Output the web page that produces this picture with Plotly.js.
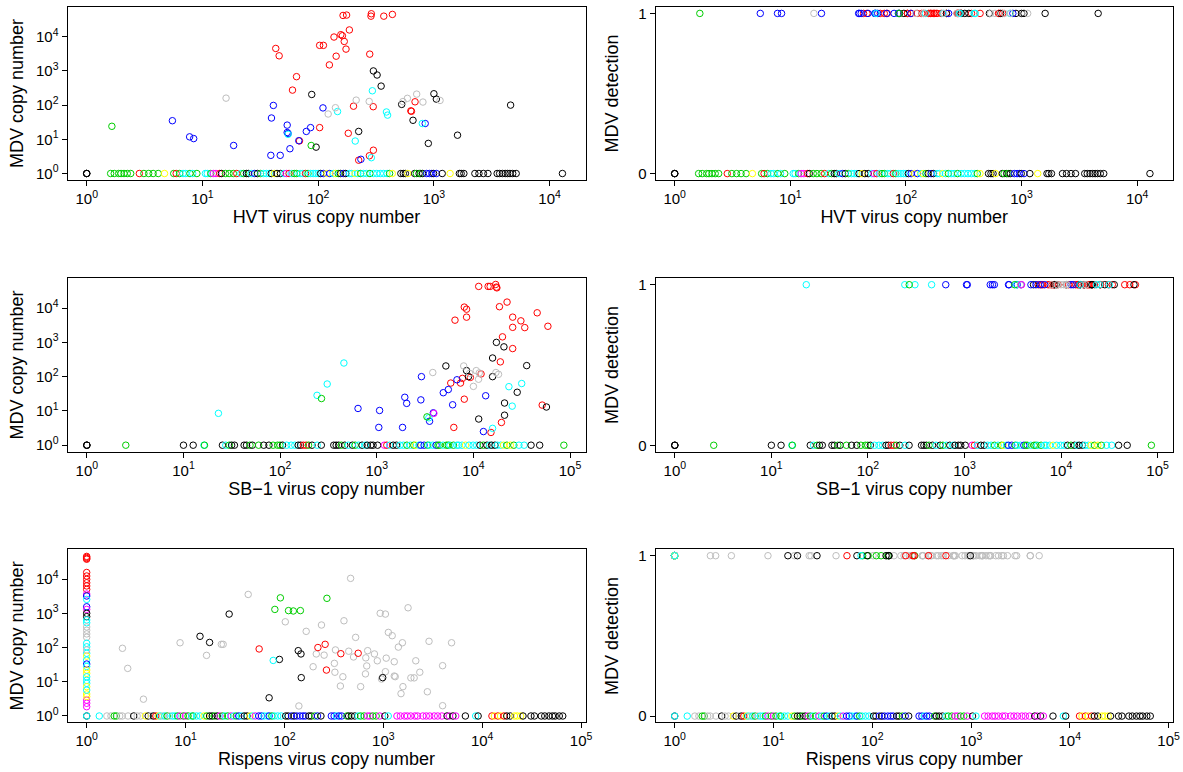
<!DOCTYPE html>
<html>
<head>
<meta charset="utf-8">
<script src="https://cdn.plot.ly/plotly-3.0.1.min.js"></script>
<style>html,body{margin:0;padding:0;background:#fff;}#chart{width:1183px;height:772px;}</style>
</head>
<body>
<div id="chart"></div>
<script>
// R default palette: 1 black, 2 red, 3 green3, 4 blue, 5 cyan, 6 magenta, 7 yellow, 8 gray
const palette = ['black', 'red', '#00CD00', 'blue', 'cyan', 'magenta', 'yellow', '#BEBEBE'];
const UNDETECTED_MDV = 1; // samples with no MDV detected sit at 10^0

// ---------- HVT ----------
const hvtDetCopies = [164,176,288,286,369,438,137,157,162,168,186,174,103,111,143,125,279,43,46,65,60,202,299,687,632,640,103,182,69,300,277,224,
  300,323,350,88,1000,1050,527,660,4600,224,1600,895,96,
  5.5,7.75,8.4,18.6,41,39.5,54,54,55,39,47,57,86,79,110,68,234,841,
  294,147,389,398,55,209,288,794,
  16,122,141,213,276,540,590,710,804,1130,
  1.65,87];
const hvtDetMdv = [42000,43000,47000,40000,40000,45000,9800,11500,10700,7300,15800,4350,5600,5600,2700,1500,3100,4550,2770,680,275,93,90,125,68,66,22,15,9,4.8,3.3,2.45,
  1000,760,360,205,215,150,105,36,100,17,13.2,7.6,5.9,
  35,11.8,10.5,6.6,98,42,26,15.8,14.8,3.4,3.4,5.3,22,17,83,9.1,2.6,29,
  263,65,63,51,14,8.9,2.9,29,
  160,55,84,140,128,127,158,210,123,137,
  24,6.6];
const hvtDetGroup = [2,2,2,2,2,2,2,2,2,2,2,2,2,2,2,2,2,2,2,2,2,2,2,2,2,2,2,2,2,2,2,2,
  1,1,1,1,1,1,1,1,1,1,1,1,1,
  4,4,4,4,4,4,4,4,4,4,4,4,4,4,4,4,4,4,
  5,5,5,5,5,5,5,5,
  8,8,8,8,8,8,8,8,8,8,
  3,3];
const hvtBaseCopies = [1,1,1,1.61,1.73,1.89,1.98,2.1,2.24,2.4,2.85,3.12,3.43,3.75,4.15,4.7,5.65,5.93,6.35,6.8,7.18,7.8,8.24,8.95,
  10.6,11.0,11.8,12.4,13.1,14.1,14.6,15.8,17.0,18.5,19.8,21.5,22.7,24,25,26.4,28.3,29.9,31.8,33.8,35.7,37.7,39.3,41.8,44.1,47.2,50.6,53,56,59.2,62.1,65.2,69.8,73.7,77.8,81.7,85.7,90.5,95.5,
  100,105,111,119,126,135,141,149,156,165,173,186,195,208,220,233,246,261,280,300,321,344,368,394,414,437,518,544,567,595,682,706,745,766,798,866,915,960,994,
  1050,1180,1380,1660,1720,1815,2260,2450,2680,2930,3520,3700,3910,4130,4330,4540,4800,5140,12900];
const hvtBaseGroup = [1,1,1,3,3,3,3,3,3,3,2,3,3,3,3,7,3,2,3,5,5,3,5,3,
  5,5,3,6,6,2,1,3,3,3,2,5,3,1,1,5,4,1,3,5,5,5,1,7,1,1,5,6,2,5,3,3,5,5,2,3,5,5,5,
  5,1,4,7,4,5,7,3,1,4,1,5,5,7,5,3,5,5,3,5,5,5,5,5,3,7,1,1,1,7,1,3,1,3,1,4,4,4,1,
  4,1,7,1,1,1,1,1,1,1,1,1,1,1,1,1,1,1,1];

// ---------- SB-1 ----------
const sb1DetCopies = [11350,14200,14900,17000,17300,17500,8050,8500,22300,18600,45700,6450,8500,25500,31000,34000,25500,59000,20000,25500,19000,12000,5830,7700,7360,9300,8050,6270,19500,15200,51500,
  17300,20700,15800,5190,35600,8500,8900,15800,28400,21000,57000,11350,21000,
  2900,2860,1950,2040,640,1070,1050,1850,3850,3520,4880,5500,6760,6100,13400,12700,
  457,307,241,23,23300,31600,25200,15800,3460,
  268,3310,
  3800,7940,10000,10700,11500,11300,17100,18200,9150,
  3900];
const sb1DetMdv = [43000,43000,43000,49000,41000,39000,10700,9300,15000,11000,7300,4450,5450,5450,4250,2700,2750,2950,1450,660,270,120,65,89,65,95,22,3.3,4.6,2.35,14.8,
  1000,740,350,205,210,150,100,100,35,17,13,5.8,7.5,
  100,21,25,16.6,11.8,10.3,3.3,3.3,8.8,5.0,34,42,81,15.1,27.7,2.5,
  250,61,28.5,8.5,51,63,13.8,3.1,6.3,
  23,6.7,
  132,205,52,150,128,84,132,117,125,
  8.5];
const sb1DetGroup = [2,2,2,2,2,2,2,2,2,2,2,2,2,2,2,2,2,2,2,2,2,2,2,2,2,2,2,2,2,2,2,
  1,1,1,1,1,1,1,1,1,1,1,1,1,
  4,4,4,4,4,4,4,4,4,4,4,4,4,4,4,4,
  5,5,5,5,5,5,5,5,5,
  3,3,
  8,8,8,8,8,8,8,8,8,
  6];
const sb1BaseCopies = [1,1,1,2.53,10,12.6,16.3,16.5,25.3,27.4,29.8,31.5,33.7,42.4,44.9,48.8,51.6,59.9,67.7,76.6,84.6,94.1,99.7,
  106,117,130,142,154,163,174,186,197,214,242,267,359,380,403,430,467,508,560,598,649,705,765,797,865,916,
  1020,1200,1270,1360,1480,1600,1740,1890,2050,2230,2420,2520,2730,2850,3090,3360,3500,3800,4120,4300,4480,4860,5270,5500,5730,6220,6750,7030,7630,8290,9000,9930,
  10800,11700,12700,13800,14700,15400,16700,17700,19200,20500,22200,24100,26200,29600,33500,39500,48500,86300];
const sb1BaseGroup = [1,1,1,3,1,1,5,3,1,5,3,1,1,1,1,3,1,3,1,1,3,3,3,
  1,5,5,5,1,1,2,2,3,1,5,1,1,1,1,3,1,5,1,3,5,1,5,1,1,1,
  1,6,2,5,1,1,5,5,3,5,3,7,5,4,4,3,5,5,4,3,3,5,3,3,5,3,5,5,5,7,5,5,
  5,1,3,1,5,1,1,5,5,7,3,7,3,5,5,1,1,3];

// ---------- Rispens ----------
const rispensDetCopies = [1,1,1,1,1,1,1,1,1,1,1,1,1,1,1,1,1,1,1,1,1,1,1,1,1,1,1,1,1,1,1,1,1,1,1,1,1,1,1,1,1,1,1,
  467,43,102,400,930,1050,1780,237,166,1125,1230,525,2900,4900,1560,1420,8.8,2.3,23,24,16.3,2.6,3.75,210,252,328,447,500,695,813,665,870,1070,680,660,320,324,390,368,590,1050,1290,1290,1320,1900,2050,2130,2340,1580,1510,2790,3980,3980,140,195,960,
  91,80,110,123,145,269,
  55.5,218,258,372,557,266,
  27.6,14,17.5,138,147,89,148,986,70,
  77];
const rispensDetMdv = [2.9,2.35,1.87,46000,43000,40000,38000,15600,12300,9800,7800,6300,5000,3650,3200,2550,1550,1300,1000,800,640,530,400,320,250,200,133,105,68,56,43,33,28,22,17.6,14,11,9,7.2,4.4,3.7,85,5.7,
  10500,3560,565,605,1000,950,1450,455,297,277,222,198,152,138,138,103,138,95,124,124,59,24.6,3.1,65,60,85,78,53,81,65,50,41,49,29,17,34.5,19,14,7.5,7.2,19.7,38.5,14.7,14.1,13,13,41,19,7.2,4.5,5.1,29.5,2.0,1.96,27.5,12,
  2830,1300,1200,1170,1200,2740,
  91,100,124,66,68,22,
  950,213,141,81,65,45,13.2,13.2,3.4,
  42];
const rispensDetGroup = [6,6,6,2,2,2,2,2,2,2,2,2,2,6,4,5,4,6,1,1,5,5,8,8,8,8,5,5,5,7,5,4,5,7,7,5,5,5,7,7,7,8,5,
  8,8,8,8,8,8,8,8,8,8,8,8,8,8,8,8,8,8,8,8,8,8,8,8,8,8,8,8,8,8,8,8,8,8,8,8,8,8,8,8,8,8,8,8,8,8,8,8,8,8,8,8,8,8,8,8,
  3,3,3,3,3,3,
  2,2,2,2,2,2,
  1,1,1,1,1,1,1,1,1,
  5];
const rispensBaseCopies = [1,1,1.34,1.6,1.76,1.9,2.0,2.16,2.29,2.62,2.99,3.24,3.51,3.93,4.19,4.47,4.73,5.0,5.33,5.55,5.87,6.16,6.52,6.9,7.36,7.84,8.3,8.78,9.5,9.98,
  10.6,11.5,11.9,12.9,14.0,15.4,16.4,17.5,18.6,19.6,20.9,22.3,23.6,25,26.7,28.9,30.8,32.6,34.5,36.7,39.2,41.8,45,47.5,50.7,55,58.6,62,67.2,70,74.6,78.9,85.5,92.7,
  103,109,118,125,133,144,154,163,177,187,202,216,234,298,318,336,356,379,428,446,475,514,557,590,640,693,733,782,847,918,
  1036,1122,1373,1489,1640,1750,1893,2085,2223,2510,2720,2950,3275,3550,3910,4410,4670,5060,5400,6760,8600,9100,
  12550,13300,14400,15350,16640,17740,19230,21180,22590,24480,25880,31140,33740,39630,42950,47330,51290,54700,60260,65310];
const rispensBaseGroup = [1,5,5,8,8,3,3,8,8,8,1,8,8,7,1,8,1,2,7,5,8,5,3,8,5,5,3,6,3,6,
  3,5,3,5,5,7,3,1,1,3,1,6,3,5,3,6,5,3,4,5,1,1,7,5,6,4,4,5,5,4,3,5,5,5,
  1,1,4,1,4,4,4,4,1,1,3,4,1,4,4,5,4,4,3,1,1,1,5,3,3,6,6,3,3,6,
  1,5,6,6,6,6,6,6,6,6,6,6,6,6,6,1,6,1,6,1,5,1,
  2,7,2,7,2,1,1,7,7,7,1,1,1,1,1,1,1,1,1,1];

// ---------- tick labels ----------
const logTickVals = [1, 10, 100, 1000, 10000, 100000];
const logTickText = ['10<sup>0</sup>', '10<sup>1</sup>', '10<sup>2</sup>', '10<sup>3</sup>', '10<sup>4</sup>', '10<sup>5</sup>'];
const detTickVals = [0, 1];
const detTickText = ['0', '1'];

const rows = [
  {name: 'HVT virus copy number', detX: hvtDetCopies, detY: hvtDetMdv, detG: hvtDetGroup, baseX: hvtBaseCopies, baseG: hvtBaseGroup, xr: [-0.166, 4.31], nTicks: 5},
  {name: 'SB\u22121 virus copy number', detX: sb1DetCopies, detY: sb1DetMdv, detG: sb1DetGroup, baseX: sb1BaseCopies, baseG: sb1BaseGroup, xr: [-0.2, 5.16], nTicks: 6},
  {name: 'Rispens virus copy number', detX: rispensDetCopies, detY: rispensDetMdv, detG: rispensDetGroup, baseX: rispensBaseCopies, baseG: rispensBaseGroup, xr: [-0.194, 5.045], nTicks: 6}
];

const FONT = 'Liberation Sans, Arial, Helvetica, sans-serif';
const rowDomains = [[0.76684, 0.99093], [0.41490, 0.63951], [0.06412, 0.28847]];
const colDomains = [[0.05706, 0.49493], [0.55410, 0.99155]];

const traces = [];
const layout = {
  width: 1183, height: 772,
  margin: {l: 0, r: 0, t: 0, b: 0},
  paper_bgcolor: 'white', plot_bgcolor: 'white',
  showlegend: false,
  font: {family: FONT, color: 'black'}
};

function axisBase() {
  return {
    showline: true, mirror: true, linecolor: 'black', linewidth: 1,
    ticks: 'outside', ticklen: 5, tickwidth: 1, tickcolor: 'black',
    showgrid: false, zeroline: false,
    tickfont: {family: FONT, size: 15, color: 'black'}
  };
}

rows.forEach((r, i) => {
  const allX = r.detX.concat(r.baseX);
  const allG = r.detG.concat(r.baseG);
  const mdv = r.detY.concat(r.baseX.map(() => UNDETECTED_MDV));
  const detection = mdv.map(v => v > UNDETECTED_MDV ? 1 : 0);
  const colors = allG.map(g => palette[g - 1]);
  [0, 1].forEach(c => {
    const k = i * 2 + c + 1;
    const suf = k === 1 ? '' : String(k);
    traces.push({
      type: 'scatter', mode: 'markers',
      x: allX, y: c === 0 ? mdv : detection,
      xaxis: 'x' + suf, yaxis: 'y' + suf,
      marker: {symbol: 'circle-open', size: 6.5, color: colors, line: {width: 1, color: colors}},
      hoverinfo: 'x+y'
    });
    const xa = axisBase();
    Object.assign(xa, {
      type: 'log', domain: colDomains[c], anchor: 'y' + suf, range: r.xr,
      tickmode: 'array', tickvals: logTickVals.slice(0, r.nTicks), ticktext: logTickText.slice(0, r.nTicks),
      title: {text: r.name, font: {family: FONT, size: 18, color: 'black'}, standoff: 1}
    });
    const ya = axisBase();
    if (c === 0) {
      Object.assign(ya, {
        type: 'log', domain: rowDomains[i], anchor: 'x' + suf, range: [-0.19, 4.87],
        tickmode: 'array', tickvals: logTickVals.slice(0, 5), ticktext: logTickText.slice(0, 5),
        title: {text: 'MDV copy number', font: {family: FONT, size: 18, color: 'black'}, standoff: 7}
      });
    } else {
      Object.assign(ya, {
        type: 'linear', domain: rowDomains[i], anchor: 'x' + suf, range: [-0.04, 1.04],
        tickmode: 'array', tickvals: detTickVals, ticktext: detTickText,
        title: {text: 'MDV detection', font: {family: FONT, size: 18, color: 'black'}, standoff: 14}
      });
    }
    layout['xaxis' + suf] = xa;
    layout['yaxis' + suf] = ya;
  });
});

Plotly.newPlot('chart', traces, layout, {displayModeBar: false, staticPlot: true});
</script>
</body>
</html>
